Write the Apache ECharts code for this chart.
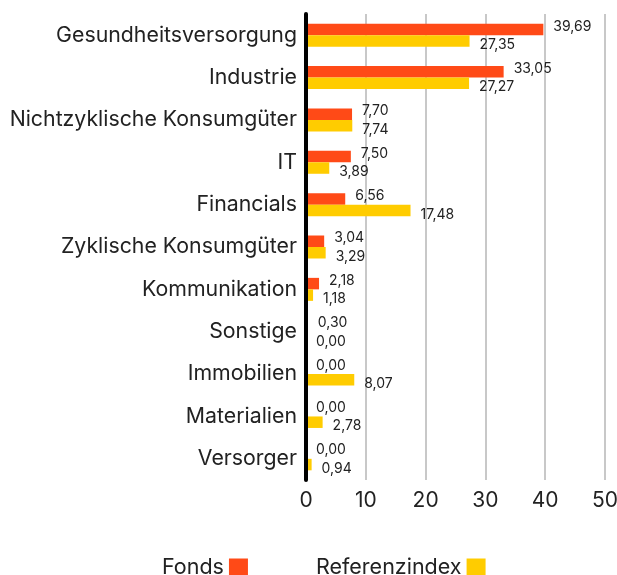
<!DOCTYPE html>
<html>
<head>
    <meta charset="utf-8">
    <title>Sektoren</title>
    <script src="https://cdn.jsdelivr.net/npm/echarts@6/dist/echarts.min.js"></script>
    <style>
        html, body { margin: 0; padding: 0; background: #fff; }
        #main { width: 617px; height: 575px; }
    </style>
</head>
<body>
<div id="main"></div>
<script>
    var sektoren = ['Gesundheitsversorgung', 'Industrie', 'Nichtzyklische Konsumgüter', 'IT', 'Financials',
        'Zyklische Konsumgüter', 'Kommunikation', 'Sonstige', 'Immobilien', 'Materialien', 'Versorger'];
    var fonds = [39.69, 33.05, 7.70, 7.50, 6.56, 3.04, 2.18, 0.30, 0.00, 0.00, 0.00];
    var referenz = [27.35, 27.27, 7.74, 3.89, 17.48, 3.29, 1.18, 0.00, 8.07, 2.78, 0.94];
    var xTicks = [0, 10, 20, 30, 40, 50];

    var schrift = 'Inter, "Noto Sans", sans-serif';

    function komma(p) {
        return p.value.toFixed(2).replace('.', ',');
    }

    var myChart = echarts.init(document.getElementById('main'));
    myChart.setOption({
        animation: false,
        textStyle: { fontFamily: schrift },
        grid: { left: 306, right: 12, top: 14, bottom: 95, containLabel: false, outerBoundsMode: 'none' },
        legend: {
            left: 157,
            top: 552,
            align: 'right',
            itemWidth: 19,
            itemHeight: 19,
            itemGap: 68,
            icon: 'rect',
            textStyle: { fontSize: 21.5, color: '#222', fontFamily: schrift },
            data: ['Fonds', 'Referenzindex']
        },
        xAxis: {
            type: 'value',
            min: xTicks[0],
            max: xTicks[xTicks.length - 1],
            interval: 10,
            axisLine: { show: false },
            axisTick: { show: false },
            axisLabel: { fontSize: 21, color: '#222', margin: 10, fontFamily: schrift },
            splitLine: { lineStyle: { color: '#c8c8c8', width: 2 } }
        },
        yAxis: {
            type: 'category',
            inverse: true,
            data: sektoren,
            z: 5,
            axisLine: { lineStyle: { color: '#000', width: 4 } },
            axisTick: { show: false },
            axisLabel: { fontSize: 21.3, color: '#222', margin: 9, fontFamily: schrift }
        },
        series: [
            {
                name: 'Fonds',
                type: 'bar',
                data: fonds,
                barWidth: 11.5,
                barGap: '0%',
                itemStyle: { color: '#ff4a17' },
                label: {
                    show: true,
                    position: 'right',
                    distance: 10,
                    offset: [0, -3],
                    fontSize: 14,
                    color: '#222',
                    formatter: komma
                }
            },
            {
                name: 'Referenzindex',
                type: 'bar',
                data: referenz,
                barWidth: 11.5,
                barGap: '0%',
                itemStyle: { color: '#ffcc00' },
                label: {
                    show: true,
                    position: 'right',
                    distance: 10,
                    offset: [0, 4],
                    fontSize: 14,
                    color: '#222',
                    formatter: komma
                }
            }
        ]
    });
</script>
</body>
</html>
